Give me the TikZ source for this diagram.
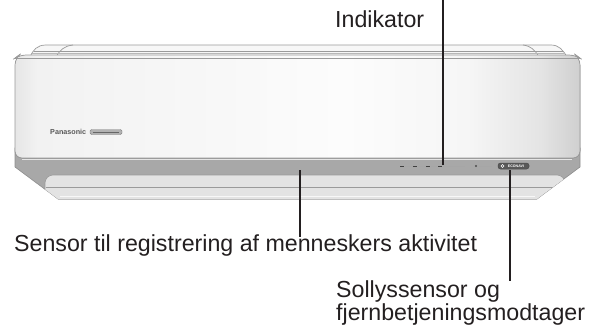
\documentclass[tikz,border=0pt]{standalone}
\usepackage{fontspec}
\setmainfont{Liberation Sans}
\definecolor{edge}{HTML}{9A9A9A}
\definecolor{band}{HTML}{A8A8A8}
\definecolor{bandedge}{HTML}{8E8E8E}
\definecolor{strip}{HTML}{E3E3E3}
\definecolor{rim}{HTML}{F7F7F7}
\definecolor{ink}{HTML}{231F20}
\definecolor{pA}{HTML}{E6E6E6}
\definecolor{pB}{HTML}{F2F2F2}
\definecolor{pC}{HTML}{FCFCFC}
\definecolor{pD}{HTML}{F6F6F6}
\definecolor{pE}{HTML}{E4E4E4}
\definecolor{pF}{HTML}{CFCFCF}
\pgfdeclarehorizontalshading{panelshade}{100bp}{%
  color(0bp)=(pA); color(25bp)=(pA); color(27bp)=(pB); color(54bp)=(pC);
  color(65bp)=(pD); color(71.5bp)=(pE); color(75bp)=(pF); color(100bp)=(pF)}
\tikzset{
  leader/.style={draw=ink, line width=1.7pt},
  lbl/.style={text=ink, inner sep=0pt, font=\fontsize{23.2}{27}\selectfont},
  outline/.style={draw=edge, line width=0.7pt},
}
\begin{document}
\begin{tikzpicture}[x=1pt,y=-1pt]
\useasboundingbox (0,0) rectangle (598,325);

% back rim on top of the unit
\filldraw[outline, fill=rim] (30,57) .. controls (33,50) and (37,45) .. (46,45)
  -- (551,45) .. controls (559,45) and (563,50) .. (567,57) -- cycle;
\draw[outline] (56,57) .. controls (60,50) and (64,46) .. (73,45);
\draw[outline] (523,45) .. controls (531,46) and (535,50) .. (539,57);
\draw[outline] (34,51) -- (563,51);
\draw[draw=edge!70, line width=0.5pt] (32,53) -- (565,53);

% lower shell
\path[fill=band, draw=bandedge, line width=0.6pt]
  (15,148) -- (15,167) -- (58,199) -- (537,199) -- (580,167) -- (580,148) -- cycle;
% light strip under the shell
\begin{scope}
  \clip (15,148) -- (15,167) -- (58,199) -- (537,199) -- (580,167) -- (580,148) -- cycle;
  \filldraw[fill=strip, draw=edge, line width=0.6pt, rounded corners=8]
    (45,175) rectangle (565,220);
  \draw[edge, line width=0.7pt] (46,187) -- (564,187);
  \draw[draw=white!70!strip, line width=1pt] (60,196.5) -- (535,196.5);
\end{scope}
\draw[draw=black!25, line width=0.6pt] (58,199) -- (537,199);

% front panel
\filldraw[outline, shading=panelshade, rounded corners=7]
  (15,58) -- (19,55) -- (576,55) -- (580,58) -- (580,158) -- (15,158) -- cycle;
\draw[outline] (15,58) -- (580,58);
\draw[draw=white, line width=1pt, opacity=0.7] (22,159.6) -- (572,159.6);

% brand name and badge
\node[text=black!65, inner sep=0pt, font=\bfseries\fontsize{7.2}{8}\selectfont, anchor=west]
  (brand) at (50,132) {Panasonic};
\draw[fill=black!30, draw=black!50, line width=0.4pt, rounded corners=1.5pt]
  (90,129.5) rectangle (122,134.5);
\draw[black!60, line width=0.8pt] (93,132) -- (119,132);

% indicator lamps
\foreach \x/\w in {400/9, 413/9, 426/7, 438/22}{
  \draw[black!75, line width=0.9pt] (\x,166) -- ++(4,0);
  \draw[black!35, line width=0.8pt] (\x+5,166) -- ++(\w,0);
}
\fill[black!70] (476,166) circle (1.2pt);
\draw[black!35, line width=0.8pt] (479,166) -- (492,166);
\node[draw=black!70, fill=black!65, line width=0.5pt, rounded corners=2.5pt,
  minimum width=31pt, minimum height=6pt, inner sep=0pt] (eco) at (513.5,166) {};
\node[text=white, inner sep=0pt, font=\bfseries\fontsize{3.6}{4}\selectfont] (ecotxt) at (516,166) {ECONAVI};
\draw[white, line width=0.4pt] (502.5,166) circle (1.5pt);

% labels and leaders
\node[lbl, anchor=base west] (ind) at (335,27) {Indikator};
\coordinate (indtop) at (443,0);
\coordinate (indlamp) at (443,165);
\draw[leader] (indtop) -- (indlamp);

\node[lbl, anchor=base west] (sens) at (14,251) {Sensor til registrering af menneskers aktivitet};
\coordinate (senspt) at (300,170);
\coordinate (sensend) at (300,237);
\draw[leader] (senspt) -- (sensend);

\node[lbl, anchor=base west] (sol) at (336,297) {Sollyssensor og};
\node[lbl, anchor=base west] (fjern) at (336,320) {fjernbetjeningsmodtager};
\coordinate (solpt) at (510,170);
\coordinate (solend) at (510,281);
\draw[leader] (solpt) -- (solend);
\end{tikzpicture}
\end{document}
